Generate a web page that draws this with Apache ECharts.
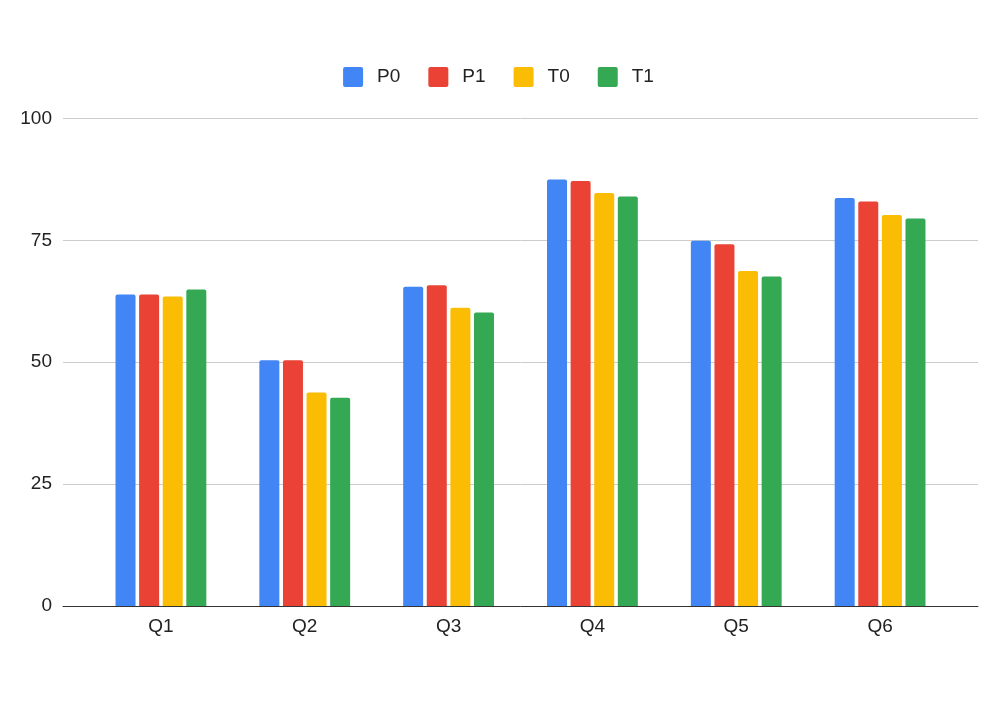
<!DOCTYPE html>
<html>
<head>
<meta charset="utf-8">
<script src="https://cdn.jsdelivr.net/npm/echarts@6/dist/echarts.min.js"></script>
<style>html,body{margin:0;padding:0;background:#fff}#c{width:997px;height:704px}</style>
</head>
<body>
<div id="c"></div>
<script>
const categories = ['Q1', 'Q2', 'Q3', 'Q4', 'Q5', 'Q6'];
const seriesNames = ['P0', 'P1', 'T0', 'T1'];
const P0 = [63.9, 50.4, 65.5, 87.5, 74.9, 83.7];
const P1 = [63.9, 50.4, 65.8, 87.2, 74.2, 83.0];
const T0 = [63.5, 43.8, 61.2, 84.7, 68.7, 80.2];
const T1 = [64.9, 42.7, 60.2, 84.0, 67.6, 79.5];
const yTicks = [0, 25, 50, 75, 100];
const colors = ['#4285F4', '#EA4335', '#FBBC04', '#34A853'];

const font = 'Arial, "Liberation Sans", sans-serif';
const values = [P0, P1, T0, T1];
const squareIcon = 'path://M2,0 H18 A2,2 0 0 1 20,2 V18 A2,2 0 0 1 18,20 H2 A2,2 0 0 1 0,18 V2 A2,2 0 0 1 2,0 Z';

const chart = echarts.init(document.getElementById('c'), null, {renderer: 'canvas'});
chart.setOption({
  animation: false,
  backgroundColor: '#fff',
  textStyle: {fontFamily: font},
  legend: {
    top: 67,
    left: 'center',
    padding: 0,
    itemWidth: 20,
    itemHeight: 21,
    itemGap: 28,
    icon: squareIcon,
    textStyle: {fontSize: 19, color: '#222', fontFamily: font, padding: [0, 0, 0, 9]},
    data: seriesNames
  },
  grid: [
    {left: 63, right: 19, top: 118.5, bottom: 98},
    {left: 89, right: 45, top: 118.5, bottom: 98}
  ],
  xAxis: [
    {
      gridIndex: 0, type: 'category', data: categories,
      axisLine: {lineStyle: {color: '#333', width: 1}},
      axisTick: {show: false}, axisLabel: {show: false}, splitLine: {show: false}
    },
    {
      gridIndex: 1, type: 'category', data: categories,
      axisLine: {show: false}, axisTick: {show: false},
      axisLabel: {fontSize: 19, color: '#222', margin: 11, fontFamily: font}
    }
  ],
  yAxis: [
    {
      gridIndex: 0, type: 'value', min: yTicks[0], max: yTicks[yTicks.length - 1], interval: 25,
      axisLine: {show: false}, axisTick: {show: false},
      axisLabel: {fontSize: 19, color: '#222', margin: 11, fontFamily: font},
      splitLine: {lineStyle: {color: '#cccccc', width: 1}}
    },
    {
      gridIndex: 1, type: 'value', min: yTicks[0], max: yTicks[yTicks.length - 1], interval: 25,
      axisLine: {show: false}, axisTick: {show: false}, axisLabel: {show: false},
      splitLine: {show: false}
    }
  ],
  series: seriesNames.map((name, i) => ({
    name: name,
    type: 'bar',
    xAxisIndex: 1,
    yAxisIndex: 1,
    data: values[i],
    barWidth: 20,
    barGap: '18%',
    itemStyle: {color: colors[i], borderRadius: [2, 2, 0, 0]}
  }))
});
</script>
</body>
</html>
